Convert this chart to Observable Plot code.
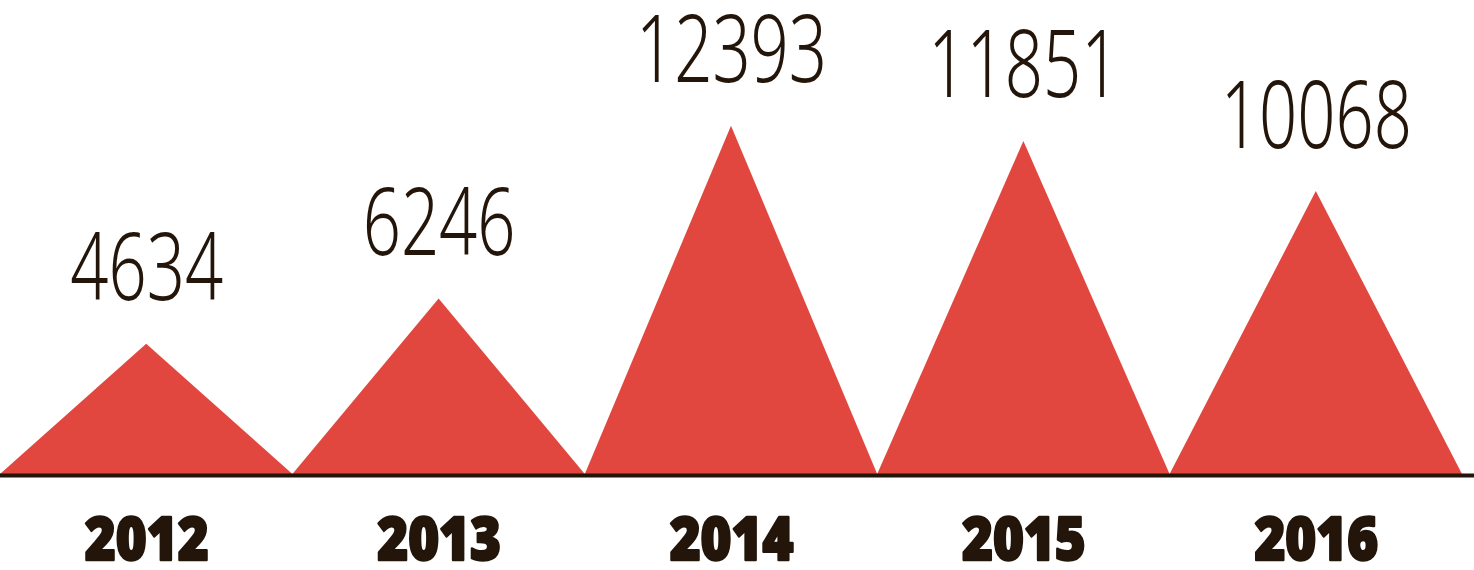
<!DOCTYPE html>
<html>
<head>
<meta charset="utf-8">
<script src="https://cdn.jsdelivr.net/npm/d3@7"></script>
<script src="https://cdn.jsdelivr.net/npm/@observablehq/plot@0.6"></script>
<style>
  html, body { margin: 0; padding: 0; background: #ffffff; }
  .vals text { font-family: "Noto Sans", sans-serif; font-weight: 300; }
  .years text { font-family: "Noto Sans", sans-serif; font-weight: 900; }
</style>
</head>
<body>
<div id="chart"></div>
<script>
const years = ["2012", "2013", "2014", "2015", "2016"];
const values = [4634, 6246, 12393, 11851, 10068];

// triangle vertices: left base, apex, right base for each year
const tri = years.flatMap((yr, i) => [
  {year: yr, x: i, v: 0},
  {year: yr, x: i + 0.5, v: values[i]},
  {year: yr, x: i + 1, v: 0}
]);
const labels = years.map((yr, i) => ({year: yr, x: i + 0.5, v: values[i]}));

const red = "#e2473f";
const ink = "#231509";

const chart = Plot.plot({
  width: 1474,
  height: 570,
  marginLeft: 0,
  marginRight: 12,
  marginTop: 0,
  marginBottom: 96,
  x: {domain: [0, 5], axis: null},
  y: {domain: [0, 16868], axis: null},
  style: {background: "#ffffff", overflow: "visible"},
  marks: [
    Plot.areaY(tri, {x: "x", y: "v", z: "year", fill: red, curve: "linear"}),
    Plot.ruleY([0], {stroke: ink, strokeWidth: 4, insetRight: -12, dy: 1}),
    Plot.text(labels, {x: "x", y: "v", text: d => String(d.v), fill: ink, fontSize: 93, lineAnchor: "bottom", dy: -44, className: "vals"}),
    Plot.text(labels, {x: "x", y: 0, text: "year", fill: ink, stroke: ink, strokeWidth: 2.5, fontSize: 60, lineAnchor: "middle", dy: 66, className: "years"})
  ]
});

// condense glyphs horizontally around each label's anchor
function condense(sel, k) {
  chart.querySelectorAll(sel).forEach(t => {
    const tr = t.getAttribute("transform") || "";
    t.setAttribute("transform", tr + ` scale(${k},1)`);
  });
}
document.getElementById("chart").appendChild(chart);
condense(".vals text", 0.72);
condense(".years text", 0.88);
</script>
</body>
</html>
